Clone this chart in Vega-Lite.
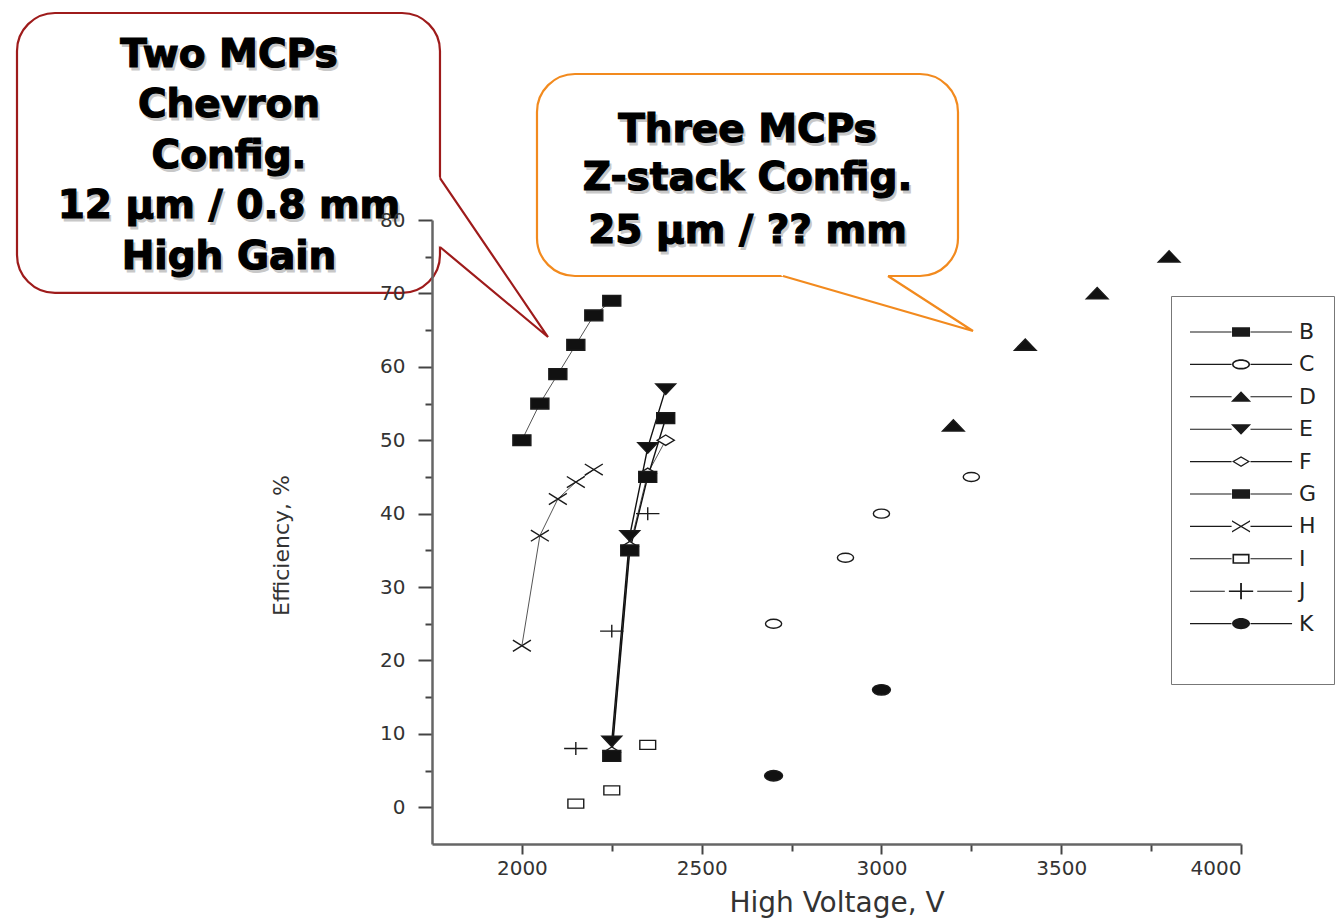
{
  "$schema": "https://vega.github.io/schema/vega-lite/v6.json",
  "width": 809,
  "height": 624,
  "autosize": {"type": "none"},
  "padding": {"left": 432, "top": 220, "right": 99, "bottom": 77},
  "background": "white",
  "config": {
    "view": {"stroke": null},
    "axis": {
      "grid": false,
      "labelFont": "DejaVu Sans",
      "labelFontSize": 20,
      "labelColor": "#333",
      "titleFont": "DejaVu Sans",
      "titleFontWeight": "normal",
      "titleColor": "#333",
      "domainColor": "#666",
      "domainWidth": 2.5,
      "tickColor": "#444",
      "tickWidth": 2
    }
  },
  "datasets": {
    "pts": [
      {"s": "B", "v": 2000, "e": 50}, {"s": "B", "v": 2050, "e": 55}, {"s": "B", "v": 2100, "e": 59}, {"s": "B", "v": 2150, "e": 63}, {"s": "B", "v": 2200, "e": 67}, {"s": "B", "v": 2250, "e": 69},
      {"s": "C", "v": 2700, "e": 25}, {"s": "C", "v": 2900, "e": 34}, {"s": "C", "v": 3000, "e": 40}, {"s": "C", "v": 3250, "e": 45},
      {"s": "D", "v": 3200, "e": 52}, {"s": "D", "v": 3400, "e": 63}, {"s": "D", "v": 3600, "e": 70}, {"s": "D", "v": 3800, "e": 75},
      {"s": "F", "v": 2250, "e": 7.5}, {"s": "F", "v": 2300, "e": 35.5}, {"s": "F", "v": 2350, "e": 45.5}, {"s": "F", "v": 2400, "e": 50},
      {"s": "G", "v": 2250, "e": 7}, {"s": "G", "v": 2300, "e": 35}, {"s": "G", "v": 2350, "e": 45}, {"s": "G", "v": 2400, "e": 53},
      {"s": "E", "v": 2250, "e": 9}, {"s": "E", "v": 2300, "e": 37}, {"s": "E", "v": 2350, "e": 49}, {"s": "E", "v": 2400, "e": 57},
      {"s": "H", "v": 2000, "e": 22}, {"s": "H", "v": 2050, "e": 37}, {"s": "H", "v": 2100, "e": 42}, {"s": "H", "v": 2150, "e": 44.3}, {"s": "H", "v": 2200, "e": 46},
      {"s": "I", "v": 2150, "e": 0.5}, {"s": "I", "v": 2250, "e": 2.3}, {"s": "I", "v": 2350, "e": 8.5},
      {"s": "J", "v": 2150, "e": 8}, {"s": "J", "v": 2250, "e": 24}, {"s": "J", "v": 2350, "e": 40},
      {"s": "K", "v": 2700, "e": 4.3}, {"s": "K", "v": 3000, "e": 16}
    ],
    "boxes": [
      {"b": "r", "v": 595.8, "v2": 1772.2, "e": 108.2, "e2": 70.06},
      {"b": "o", "v": 2042, "v2": 3212.9, "e": 99.89, "e2": 72.37}
    ],
    "pfill": [
      {"b": "r", "v": 1766, "e": 86.1, "e2": 76.6},
      {"b": "r", "v": 2072.6, "e": 64.06, "e2": 64.06},
      {"b": "o", "v": 2722, "e": 72.9, "e2": 72.37},
      {"b": "o", "v": 3016, "e": 72.9, "e2": 68.3},
      {"b": "o", "v": 3019, "e": 72.34, "e2": 68.25},
      {"b": "o", "v": 3254.6, "e": 64.88, "e2": 64.88}
    ],
    "pline": [
      {"b": "r", "i": 1, "v": 1772.2, "e": 85.72},
      {"b": "r", "i": 2, "v": 2072.6, "e": 64.06},
      {"b": "r", "i": 3, "v": 1772.2, "e": 76.32},
      {"b": "o", "i": 1, "v": 2726.2, "e": 72.37},
      {"b": "o", "i": 2, "v": 3254.6, "e": 64.88},
      {"b": "o", "i": 3, "v": 3018.2, "e": 72.37}
    ],
    "txt": [
      {"t": "Two MCPs", "v": 1185.4, "e": 100.88},
      {"t": "Chevron", "v": 1185.4, "e": 94.03},
      {"t": "Config.", "v": 1185.4, "e": 87.08},
      {"t": "12 μm / 0.8 mm", "v": 1185.4, "e": 80.27},
      {"t": "High Gain", "v": 1185.4, "e": 73.33},
      {"t": "Three MCPs", "v": 2627.5, "e": 90.67},
      {"t": "Z-stack Config.", "v": 2627.5, "e": 84.09},
      {"t": "25 μm / ?? mm", "v": 2627.5, "e": 76.83}
    ]
  },
  "encoding": {
    "x": {
      "field": "v", "type": "quantitative",
      "scale": {"domain": [1750, 4000], "nice": false, "zero": false},
      "axis": {
        "title": "High Voltage, V",
        "titleFontSize": 28,
        "titlePadding": 11,
        "zindex": 2,
        "values": [2000, 2250, 2500, 2750, 3000, 3250, 3500, 3750, 4000],
        "format": "d",
        "labelExpr": "datum.value % 500 === 0 ? datum.label : ''",
        "tickSize": {"condition": {"test": "datum.value % 500 === 0", "value": 10}, "value": 7},
        "labelPadding": 4
      }
    },
    "y": {
      "field": "e", "type": "quantitative",
      "scale": {"domain": [-5, 80], "nice": false, "zero": false},
      "axis": {
        "title": "Efficiency, %",
        "titleFontSize": 22,
        "titlePadding": 86,
        "titleY": 325,
        "zindex": 2,
        "values": [0, 5, 10, 15, 20, 25, 30, 35, 40, 45, 50, 55, 60, 65, 70, 75, 80],
        "format": "d",
        "labelExpr": "datum.value % 10 === 0 ? datum.label : ''",
        "tickSize": {"condition": {"test": "datum.value % 10 === 0", "value": 14}, "value": 7},
        "labelPadding": 13
      }
    }
  },
  "layer": [
    {
      "data": {"name": "boxes"},
      "mark": {"type": "rect", "cornerRadius": 38, "fill": "white", "strokeWidth": 2.2},
      "encoding": {
        "x2": {"field": "v2"},
        "y2": {"field": "e2"},
        "stroke": {"field": "b", "type": "nominal", "scale": {"domain": ["r", "o"], "range": ["#9E1B1B", "#F28A1E"]}, "legend": null}
      }
    },
    {
      "data": {"name": "pfill"},
      "mark": {"type": "area", "orient": "vertical", "fill": "white", "strokeWidth": 0},
      "encoding": {
        "y2": {"field": "e2"},
        "detail": {"field": "b", "type": "nominal"}
      }
    },
    {
      "data": {"name": "pline"},
      "mark": {"type": "line", "strokeWidth": 2.2},
      "encoding": {
        "order": {"field": "i", "type": "quantitative"},
        "detail": {"field": "b", "type": "nominal"},
        "stroke": {"field": "b", "type": "nominal", "scale": {"domain": ["r", "o"], "range": ["#9E1B1B", "#F28A1E"]}, "legend": null}
      }
    },
    {
      "data": {"name": "pts"},
      "transform": [{"filter": {"field": "s", "oneOf": ["B", "F", "H"]}}],
      "mark": {"type": "line", "color": "#555", "strokeWidth": 1},
      "encoding": {"detail": {"field": "s", "type": "nominal"}}
    },
    {
      "data": {"name": "pts"},
      "transform": [{"filter": {"field": "s", "oneOf": ["E", "G"]}}],
      "mark": {"type": "line", "color": "#111", "strokeWidth": 1.4},
      "encoding": {"detail": {"field": "s", "type": "nominal"}}
    },
    {
      "data": {"name": "pts"},
      "mark": {"type": "point", "size": 324, "strokeWidth": 1.4, "stroke": "#1a1a1a", "opacity": 1},
      "encoding": {
        "shape": {
          "field": "s", "type": "nominal", "legend": null,
          "scale": {
            "domain": ["B", "C", "D", "E", "F", "G", "H", "I", "J", "K"],
            "range": [
              "M-1,-0.6H1V0.6H-1Z",
              "M-0.9,0C-0.9,-0.276,-0.497,-0.5,0,-0.5C0.497,-0.5,0.9,-0.276,0.9,0C0.9,0.276,0.497,0.5,0,0.5C-0.497,0.5,-0.9,0.276,-0.9,0Z",
              "M0,-0.65L1.2,0.6H-1.2Z",
              "M-1.1,-0.55H1.1L0,0.62Z",
              "M-0.95,0L0,-0.58L0.95,0L0,0.58Z",
              "M-1,-0.6H1V0.6H-1Z",
              "M-1,-0.62L1,0.62M-1,0.62L1,-0.62",
              "M-0.88,-0.5H0.88V0.5H-0.88Z",
              "M-1.3,0H1.3M0,-0.72V0.72",
              "M-1,0C-1,-0.32,-0.552,-0.58,0,-0.58C0.552,-0.58,1,-0.32,1,0C1,0.32,0.552,0.58,0,0.58C-0.552,0.58,-1,0.32,-1,0Z"
            ]
          }
        },
        "fill": {
          "field": "s", "type": "nominal", "legend": null,
          "scale": {
            "domain": ["B", "C", "D", "E", "F", "G", "H", "I", "J", "K"],
            "range": ["#111", "white", "#111", "#111", "white", "#111", "transparent", "white", "transparent", "#111"]
          }
        }
      }
    },
    {
      "data": {"name": "pts"},
      "transform": [{"filter": "datum.v < 0"}],
      "mark": {"type": "point", "size": 324, "filled": true, "color": "#1a1a1a", "opacity": 1, "strokeWidth": 0},
      "encoding": {
        "shape": {
          "field": "s", "type": "nominal",
          "scale": {
            "domain": ["B", "C", "D", "E", "F", "G", "H", "I", "J", "K", " "],
            "range": [
              "M-1,-0.06H3.62V0.06H-1ZM5.72,-0.06H10.34V0.06H5.72ZM3.67,-0.52H5.67V0.52H3.67Z",
              "M-1,-0.06H3.62V0.06H-1ZM5.72,-0.06H10.34V0.06H5.72ZM3.67,0C3.67,-0.309,4.118,-0.56,4.67,-0.56C5.222,-0.56,5.67,-0.309,5.67,0C5.67,0.309,5.222,0.56,4.67,0.56C4.118,0.56,3.67,0.309,3.67,0ZM3.85,0C3.85,0.21,4.217,0.38,4.67,0.38C5.123,0.38,5.49,0.21,5.49,0C5.49,-0.21,5.123,-0.38,4.67,-0.38C4.217,-0.38,3.85,-0.21,3.85,0Z",
              "M-1,-0.06H3.62V0.06H-1ZM5.72,-0.06H10.34V0.06H5.72ZM4.67,-0.62L5.79,0.55H3.55Z",
              "M-1,-0.06H3.62V0.06H-1ZM5.72,-0.06H10.34V0.06H5.72ZM3.55,-0.55H5.79L4.67,0.62Z",
              "M-1,-0.06H3.62V0.06H-1ZM5.72,-0.06H10.34V0.06H5.72ZM3.67,0L4.67,-0.6L5.67,0L4.67,0.6ZM3.93,0L4.67,0.42L5.41,0L4.67,-0.42Z",
              "M-1,-0.06H3.62V0.06H-1ZM5.72,-0.06H10.34V0.06H5.72ZM3.67,-0.52H5.67V0.52H3.67Z",
              "M-1,-0.06H3.62V0.06H-1ZM5.72,-0.06H10.34V0.06H5.72ZM3.67,-0.68L5.67,0.52L5.67,0.68L3.67,-0.52ZM3.67,0.52L5.67,-0.68L5.67,-0.52L3.67,0.68Z",
              "M-1,-0.06H3.62V0.06H-1ZM5.72,-0.06H10.34V0.06H5.72ZM3.72,-0.55H5.62V0.55H3.72ZM3.9,-0.37V0.37H5.44V-0.37Z",
              "M-1,-0.06H2.87V0.06H-1ZM6.47,-0.06H10.34V0.06H6.47ZM3.32,-0.09H6.02V0.09H3.32ZM4.57,-0.9H4.77V0.9H4.57Z",
              "M-1,-0.06H3.62V0.06H-1ZM5.72,-0.06H10.34V0.06H5.72ZM3.67,0C3.67,-0.342,4.118,-0.62,4.67,-0.62C5.222,-0.62,5.67,-0.342,5.67,0C5.67,0.342,5.222,0.62,4.67,0.62C4.118,0.62,3.67,0.342,3.67,0Z",
              "M0,0"
            ]
          },
          "legend": {
            "orient": "none",
            "legendX": 739,
            "legendY": 76,
            "title": " ",
            "titleFontSize": 6,
            "titlePadding": 2,
            "padding": 17,
            "strokeColor": "#777",
            "fillColor": "white",
            "symbolSize": 324,
            "symbolOffset": 0,
            "labelOffset": 89,
            "labelFont": "DejaVu Sans",
            "labelFontSize": 22,
            "labelColor": "#222",
            "rowPadding": 10.4,
            "symbolOpacity": 1,
            "symbolStrokeWidth": 0,
            "values": ["B", "C", "D", "E", "F", "G", "H", "I", "J", "K", " "],
            "encode": {
              "symbols": {
                "update": {
                  "fill": {"value": "#1a1a1a"},
                  "fillOpacity": {"value": 1},
                  "stroke": {"value": "transparent"},
                  "strokeWidth": {"value": 0}
                }
              }
            }
          }
        }
      }
    },
    {
      "data": {"name": "txt"},
      "mark": {"type": "text", "font": "DejaVu Sans", "fontWeight": "bold", "fontSize": 39, "align": "center", "baseline": "alphabetic", "fill": "#777", "stroke": "#777", "strokeWidth": 1, "opacity": 0.4, "dx": 2, "dy": 3},
      "encoding": {"text": {"field": "t"}}
    },
    {
      "data": {"name": "txt"},
      "mark": {"type": "text", "font": "DejaVu Sans", "fontWeight": "bold", "fontSize": 39, "align": "center", "baseline": "alphabetic", "fill": "#000", "stroke": "#000", "strokeWidth": 1.2},
      "encoding": {"text": {"field": "t"}}
    }
  ],
  "resolve": {"scale": {"shape": "independent", "stroke": "independent", "fill": "independent"}}
}
